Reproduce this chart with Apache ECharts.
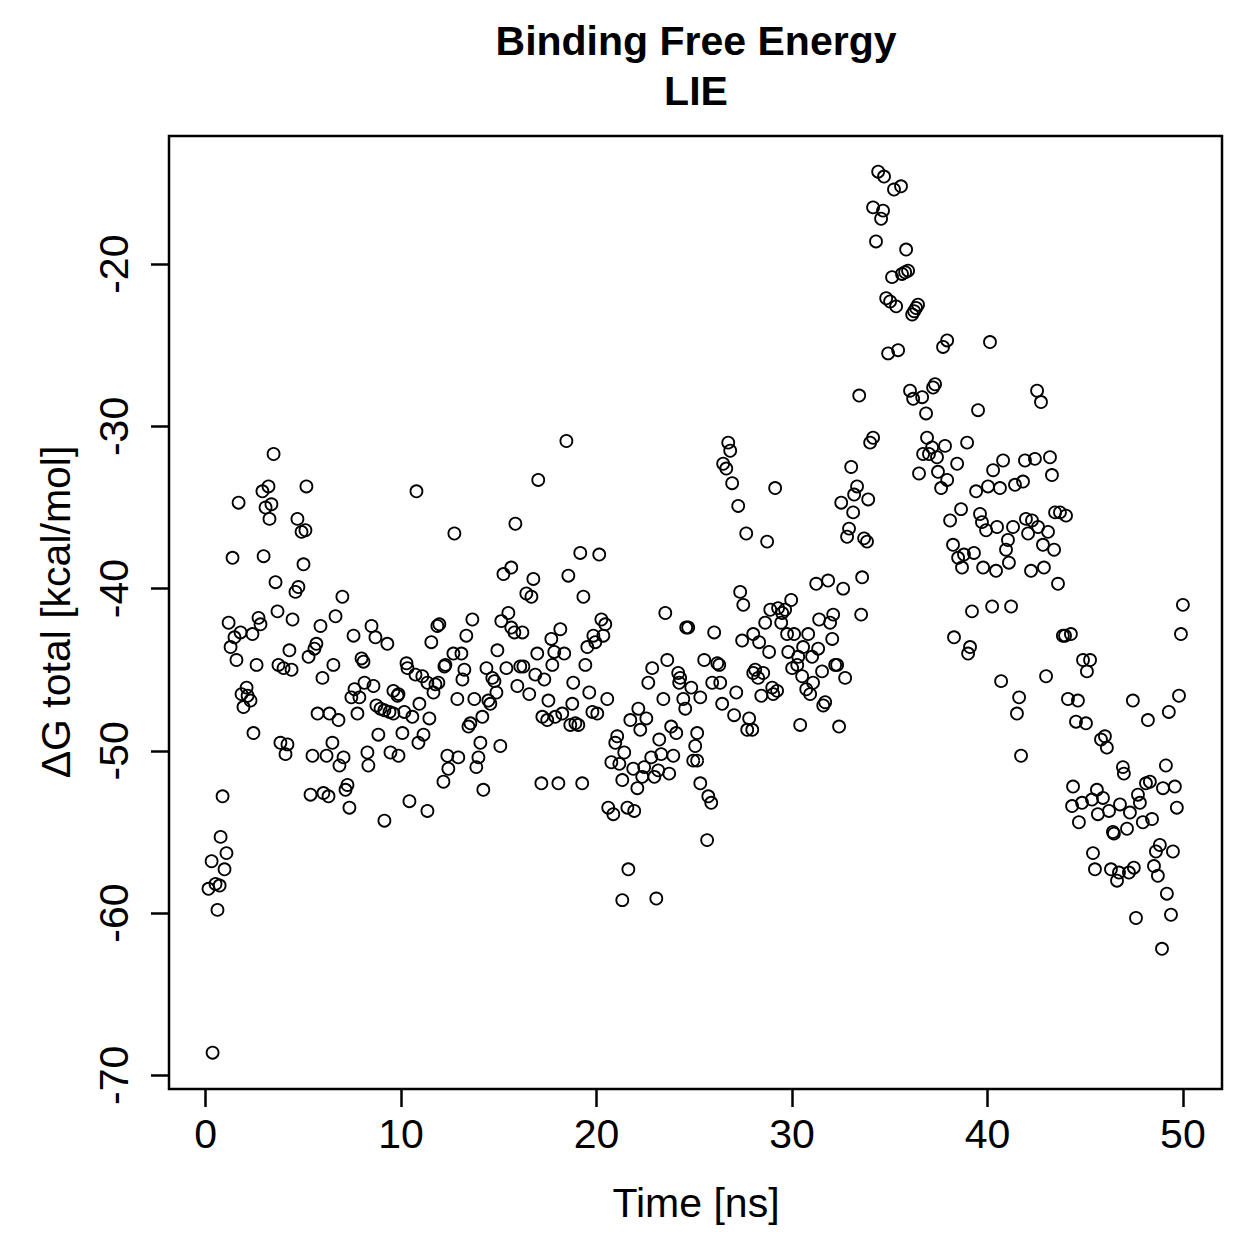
<!DOCTYPE html>
<html>
<head>
<meta charset="utf-8">
<title>Binding Free Energy - LIE</title>
<script src="https://cdn.jsdelivr.net/npm/echarts@6/dist/echarts.min.js"></script>
<style>
  html, body { margin: 0; padding: 0; background: #fff; }
  #chart { width: 1259px; height: 1259px; }
</style>
</head>
<body>
<div id="chart"></div>
<script>
// simulation time (ns) and total binding free energy (kcal/mol)
const timeNs = [
  0.15, 0.31, 0.36, 0.51, 0.61, 0.72, 0.77, 0.87, 0.97, 1.07,
  1.18, 1.28, 1.38, 1.48, 1.58, 1.69, 1.79, 1.84, 1.94, 2.10,
  2.15, 2.30, 2.40, 2.45, 2.61, 2.71, 2.81, 2.91, 2.97, 3.07,
  3.22, 3.27, 3.37, 3.48, 3.58, 3.68, 3.73, 3.83, 3.99, 4.09,
  4.19, 4.29, 4.40, 4.45, 4.60, 4.70, 4.75, 4.91, 5.01, 5.11,
  5.16, 5.27, 5.37, 5.47, 5.57, 5.67, 5.73, 5.88, 5.98, 6.03,
  6.19, 6.29, 6.34, 6.49, 6.54, 6.65, 6.80, 6.85, 7.00, 7.06,
  7.16, 7.26, 7.36, 7.46, 7.57, 7.62, 7.77, 7.87, 7.98, 8.08,
  8.13, 8.28, 8.33, 8.49, 8.59, 8.69, 8.74, 8.84, 8.95, 9.15,
  9.15, 9.30, 9.41, 9.46, 9.61, 9.61, 9.82, 9.87, 9.87, 10.07,
  10.17, 10.28, 10.33, 10.43, 10.58, 10.74, 10.79, 10.89, 10.94, 11.09,
  11.15, 11.35, 11.35, 11.45, 11.55, 11.66, 11.76, 11.86, 11.91, 11.96,
  12.17, 12.22, 12.27, 12.37, 12.42, 12.68, 12.73, 12.88, 12.93, 13.09,
  13.14, 13.24, 13.34, 13.45, 13.55, 13.65, 13.75, 13.85, 13.96, 14.06,
  14.16, 14.21, 14.37, 14.47, 14.57, 14.67, 14.78, 14.88, 14.93, 15.08,
  15.13, 15.24, 15.39, 15.49, 15.64, 15.64, 15.80, 15.85, 15.95, 16.10,
  16.21, 16.26, 16.41, 16.56, 16.67, 16.77, 16.87, 16.97, 17.02, 17.18,
  17.23, 17.33, 17.48, 17.54, 17.69, 17.74, 17.84, 17.89, 18.05, 18.15,
  18.25, 18.35, 18.46, 18.56, 18.66, 18.76, 18.81, 18.92, 19.07, 19.17,
  19.27, 19.33, 19.43, 19.53, 19.63, 19.79, 19.84, 19.94, 20.04, 20.14,
  20.25, 20.35, 20.45, 20.55, 20.60, 20.76, 20.86, 20.96, 21.06, 21.17,
  21.32, 21.32, 21.42, 21.58, 21.63, 21.73, 21.88, 21.93, 22.09, 22.14,
  22.24, 22.34, 22.44, 22.55, 22.65, 22.80, 22.85, 22.96, 23.06, 23.16,
  23.21, 23.31, 23.42, 23.52, 23.62, 23.72, 23.82, 23.93, 24.08, 24.18,
  24.23, 24.28, 24.44, 24.54, 24.59, 24.69, 24.85, 24.95, 25.05, 25.15,
  25.15, 25.31, 25.31, 25.51, 25.66, 25.72, 25.87, 25.92, 26.02, 26.18,
  26.28, 26.33, 26.43, 26.48, 26.64, 26.74, 26.84, 26.94, 27.04, 27.15,
  27.25, 27.35, 27.45, 27.51, 27.66, 27.71, 27.81, 27.97, 28.02, 28.02,
  28.12, 28.27, 28.32, 28.43, 28.53, 28.63, 28.73, 28.83, 28.89, 28.99,
  29.04, 29.14, 29.24, 29.29, 29.45, 29.50, 29.65, 29.75, 29.81, 29.96,
  30.01, 30.11, 30.27, 30.32, 30.42, 30.52, 30.57, 30.73, 30.83, 30.93,
  31.03, 31.08, 31.24, 31.34, 31.39, 31.54, 31.60, 31.70, 31.85, 31.95,
  32.06, 32.11, 32.21, 32.31, 32.41, 32.52, 32.62, 32.72, 32.82, 32.92,
  33.03, 33.13, 33.18, 33.33, 33.44, 33.54, 33.59, 33.69, 33.84, 33.90,
  34.00, 34.15, 34.15, 34.30, 34.41, 34.56, 34.66, 34.71, 34.82, 34.92,
  35.02, 35.12, 35.22, 35.33, 35.43, 35.58, 35.63, 35.79, 35.84, 35.94,
  36.04, 36.15, 36.20, 36.25, 36.35, 36.45, 36.50, 36.66, 36.71, 36.86,
  36.91, 37.01, 37.17, 37.22, 37.32, 37.42, 37.47, 37.63, 37.73, 37.83,
  37.94, 37.94, 38.09, 38.24, 38.29, 38.45, 38.50, 38.65, 38.70, 38.80,
  38.96, 39.01, 39.11, 39.21, 39.31, 39.42, 39.52, 39.62, 39.72, 39.78,
  39.93, 40.03, 40.13, 40.24, 40.29, 40.44, 40.49, 40.64, 40.70, 40.80,
  40.95, 41.05, 41.10, 41.21, 41.31, 41.41, 41.51, 41.62, 41.72, 41.82,
  41.92, 41.97, 42.08, 42.23, 42.28, 42.43, 42.54, 42.59, 42.74, 42.84,
  42.89, 43.00, 43.10, 43.20, 43.30, 43.41, 43.46, 43.61, 43.71, 43.86,
  43.97, 44.02, 44.12, 44.27, 44.33, 44.38, 44.53, 44.63, 44.68, 44.84,
  44.89, 45.04, 45.09, 45.25, 45.35, 45.40, 45.50, 45.60, 45.65, 45.81,
  45.91, 46.01, 46.11, 46.22, 46.32, 46.42, 46.47, 46.63, 46.73, 46.78,
  46.93, 46.98, 47.14, 47.24, 47.29, 47.44, 47.49, 47.60, 47.70, 47.80,
  47.95, 48.11, 48.21, 48.31, 48.42, 48.52, 48.62, 48.72, 48.82, 48.93,
  48.98, 49.13, 49.18, 49.28, 49.39, 49.49, 49.59, 49.69, 49.80, 49.90,
  50.00
];
const dGtotal = [
  -58.5, -56.8, -68.6, -58.2, -59.8, -58.3, -55.3, -52.8, -57.3, -56.3,
  -42.1, -43.6, -38.1, -43.0, -44.4, -34.7, -42.7, -46.5, -47.3, -46.1,
  -46.6, -46.9, -42.8, -48.9, -44.7, -41.8, -42.2, -34.0, -38.0, -35.0,
  -33.7, -35.7, -34.8, -31.7, -39.6, -41.4, -44.7, -49.5, -44.9, -50.2,
  -49.6, -43.8, -45.0, -41.9, -40.2, -35.7, -39.9, -36.5, -38.5, -36.4,
  -33.7, -44.2, -52.7, -50.3, -43.7, -43.4, -47.7, -42.3, -45.5, -52.6,
  -50.3, -52.8, -47.7, -49.5, -44.7, -41.7, -48.1, -50.9, -40.5, -50.4,
  -52.4, -52.1, -53.5, -46.7, -42.9, -46.2, -47.7, -46.7, -44.3, -44.5,
  -45.8, -50.1, -50.9, -42.3, -46.0, -43.0, -47.2, -49.0, -47.4, -47.5,
  -54.3, -43.4, -47.6, -50.1, -46.3, -47.7, -46.6, -46.5, -50.3, -48.9,
  -47.6, -44.6, -44.9, -53.1, -47.9, -45.3, -34.0, -49.5, -47.1, -45.4,
  -49.0, -45.8, -53.7, -48.0, -43.3, -46.4, -45.9, -42.3, -45.8, -42.2,
  -51.9, -44.8, -44.7, -50.3, -51.1, -44.0, -36.6, -46.8, -50.4, -44.0,
  -45.6, -45.0, -42.9, -48.5, -48.3, -41.9, -46.8, -51.0, -50.4, -49.5,
  -47.9, -52.4, -44.9, -46.9, -47.1, -45.5, -45.7, -46.4, -43.8, -49.7,
  -42.0, -39.1, -44.9, -41.5, -38.7, -42.4, -42.7, -36.0, -46.0, -44.8,
  -42.7, -44.8, -40.3, -46.5, -40.5, -39.4, -45.3, -44.0, -33.3, -52.0,
  -47.9, -45.6, -48.1, -46.9, -43.1, -44.7, -43.9, -47.9, -52.0, -42.5,
  -47.7, -44.0, -30.9, -39.2, -48.4, -47.1, -45.8, -48.3, -48.4, -37.8,
  -52.0, -40.5, -44.7, -43.6, -46.4, -47.6, -42.9, -43.3, -47.7, -37.9,
  -41.9, -42.9, -42.2, -46.8, -53.5, -50.7, -53.9, -49.5, -49.1, -50.8,
  -51.8, -59.2, -50.1, -53.5, -57.3, -48.1, -51.1, -53.7, -52.3, -47.4,
  -48.7, -51.6, -51.0, -48.0, -45.8, -50.4, -44.9, -51.6, -59.1, -51.2,
  -49.3, -50.2, -46.8, -41.5, -44.4, -51.4, -48.5, -50.3, -48.9, -45.2,
  -45.8, -45.5, -46.8, -47.4, -42.4, -42.4, -46.1, -50.6, -49.7, -48.9,
  -50.6, -46.7, -52.0, -44.4, -55.5, -52.8, -53.2, -45.8, -42.7, -44.6,
  -44.7, -45.8, -47.1, -32.3, -32.6, -31.0, -31.5, -33.5, -47.8, -46.4,
  -34.9, -40.2, -43.2, -41.0, -36.6, -48.7, -48.0, -48.7, -42.8, -45.2,
  -45.0, -45.5, -43.3, -46.6, -45.2, -42.1, -37.1, -43.9, -41.3, -46.1,
  -46.5, -33.8, -46.3, -41.2, -42.1, -41.5, -41.3, -42.8, -43.9, -40.7,
  -44.9, -42.8, -44.7, -44.2, -48.4, -45.4, -43.6, -46.2, -42.8, -46.5,
  -44.2, -45.8, -39.7, -43.7, -41.9, -45.1, -47.2, -47.0, -39.5, -42.1,
  -43.1, -41.6, -44.7, -44.7, -48.5, -34.7, -40.0, -45.5, -36.8, -36.3,
  -32.5, -35.3, -34.2, -33.7, -28.1, -41.6, -39.3, -36.9, -37.1, -34.5,
  -31.0, -30.7, -16.5, -18.6, -14.3, -17.2, -16.7, -14.6, -22.1, -25.5,
  -22.3, -20.8, -15.4, -22.6, -25.3, -15.2, -20.6, -20.5, -19.1, -20.4,
  -27.8, -23.1, -28.3, -22.9, -22.7, -22.5, -32.9, -28.2, -31.7, -29.2,
  -30.7, -31.7, -31.3, -27.6, -27.4, -31.9, -32.8, -33.8, -25.1, -31.2,
  -24.7, -33.3, -35.8, -37.3, -43.0, -32.3, -38.1, -35.1, -38.7, -37.9,
  -31.0, -44.0, -43.6, -41.4, -37.8, -34.0, -29.0, -35.4, -35.9, -38.7,
  -36.4, -33.7, -24.8, -41.1, -32.7, -38.9, -36.2, -33.8, -45.7, -32.1,
  -37.6, -37.0, -38.4, -41.1, -36.2, -33.6, -47.7, -46.7, -50.3, -33.4,
  -32.1, -35.7, -36.6, -38.9, -35.8, -32.0, -27.8, -36.2, -28.5, -37.3,
  -38.7, -45.4, -36.5, -31.9, -33.0, -37.6, -35.3, -39.7, -35.3, -42.9,
  -42.9, -35.5, -46.8, -42.8, -53.4, -52.2, -48.2, -46.9, -54.4, -53.2,
  -44.4, -48.3, -45.1, -44.4, -53.0, -56.3, -57.3, -52.4, -53.9, -49.3,
  -52.9, -49.1, -49.8, -53.7, -57.3, -55.0, -55.1, -58.0, -57.5, -53.3,
  -51.0, -51.4, -54.8, -57.5, -53.8, -46.9, -57.2, -60.3, -52.7, -53.2,
  -54.4, -52.0, -48.1, -51.9, -54.2, -57.1, -56.2, -57.7, -55.8, -62.2,
  -52.3, -50.9, -58.8, -47.6, -60.1, -56.2, -52.2, -53.5, -46.6, -42.8,
  -41.0
];
const xTicks = [0, 10, 20, 30, 40, 50];
const yTicks = [-70, -60, -50, -40, -30, -20];
const titleLines = ['Binding Free Energy', 'LIE'];
const xName = 'Time [ns]';
const yName = 'ΔG total [kcal/mol]';

const FONT = '"Liberation Sans", Arial, Helvetica, sans-serif';
const points = timeNs.map((t, i) => [t, dGtotal[i]]);

const chart = echarts.init(document.getElementById('chart'), null, { renderer: 'svg' });

function label(text, x, y, opts) {
  return Object.assign({
    type: 'text',
    x: x,
    y: y,
    silent: true,
    style: {
      text: text,
      fill: '#000',
      fontFamily: FONT,
      fontSize: 41,
      fontWeight: (opts && opts.bold) ? 'bold' : 'normal',
      textAlign: 'center',
      align: 'center',
      textVerticalAlign: 'middle',
      verticalAlign: 'middle'
    }
  }, opts && opts.rotation ? { rotation: opts.rotation } : {});
}

chart.setOption({
  animation: false,
  backgroundColor: '#fff',
  grid: {
    left: 169, right: 37, top: 136, bottom: 170,
    show: true, borderColor: '#000', borderWidth: 2.5,
    backgroundColor: 'transparent'
  },
  xAxis: {
    type: 'value',
    min: -1.87,
    max: 52.0,
    axisLine: { show: false, onZero: false },
    splitLine: { show: false },
    axisTick: { show: true, length: 18, customValues: xTicks, lineStyle: { color: '#000', width: 2.5 } },
    axisLabel: { customValues: xTicks, margin: 24, color: '#000', fontSize: 41, fontFamily: FONT }
  },
  yAxis: {
    type: 'value',
    min: -70.84,
    max: -12.1,
    axisLine: { show: false, onZero: false },
    splitLine: { show: false },
    axisTick: { show: true, length: 18, customValues: yTicks, lineStyle: { color: '#000', width: 2.5 } },
    axisLabel: { customValues: yTicks, rotate: 90, margin: 35, color: '#000', fontSize: 41, fontFamily: FONT }
  },
  graphic: [
    label(titleLines[0], 696, 41, { bold: true }),
    label(titleLines[1], 696, 91, { bold: true }),
    label(xName, 696, 1203),
    label(yName, 56, 612, { rotation: Math.PI / 2 })
  ],
  series: [{
    type: 'scatter',
    data: points,
    symbol: 'circle',
    symbolSize: 12,
    itemStyle: { color: 'rgba(0,0,0,0)', borderColor: '#000', borderWidth: 1.8, opacity: 1 },
    emphasis: { disabled: true }
  }]
});
</script>
</body>
</html>
